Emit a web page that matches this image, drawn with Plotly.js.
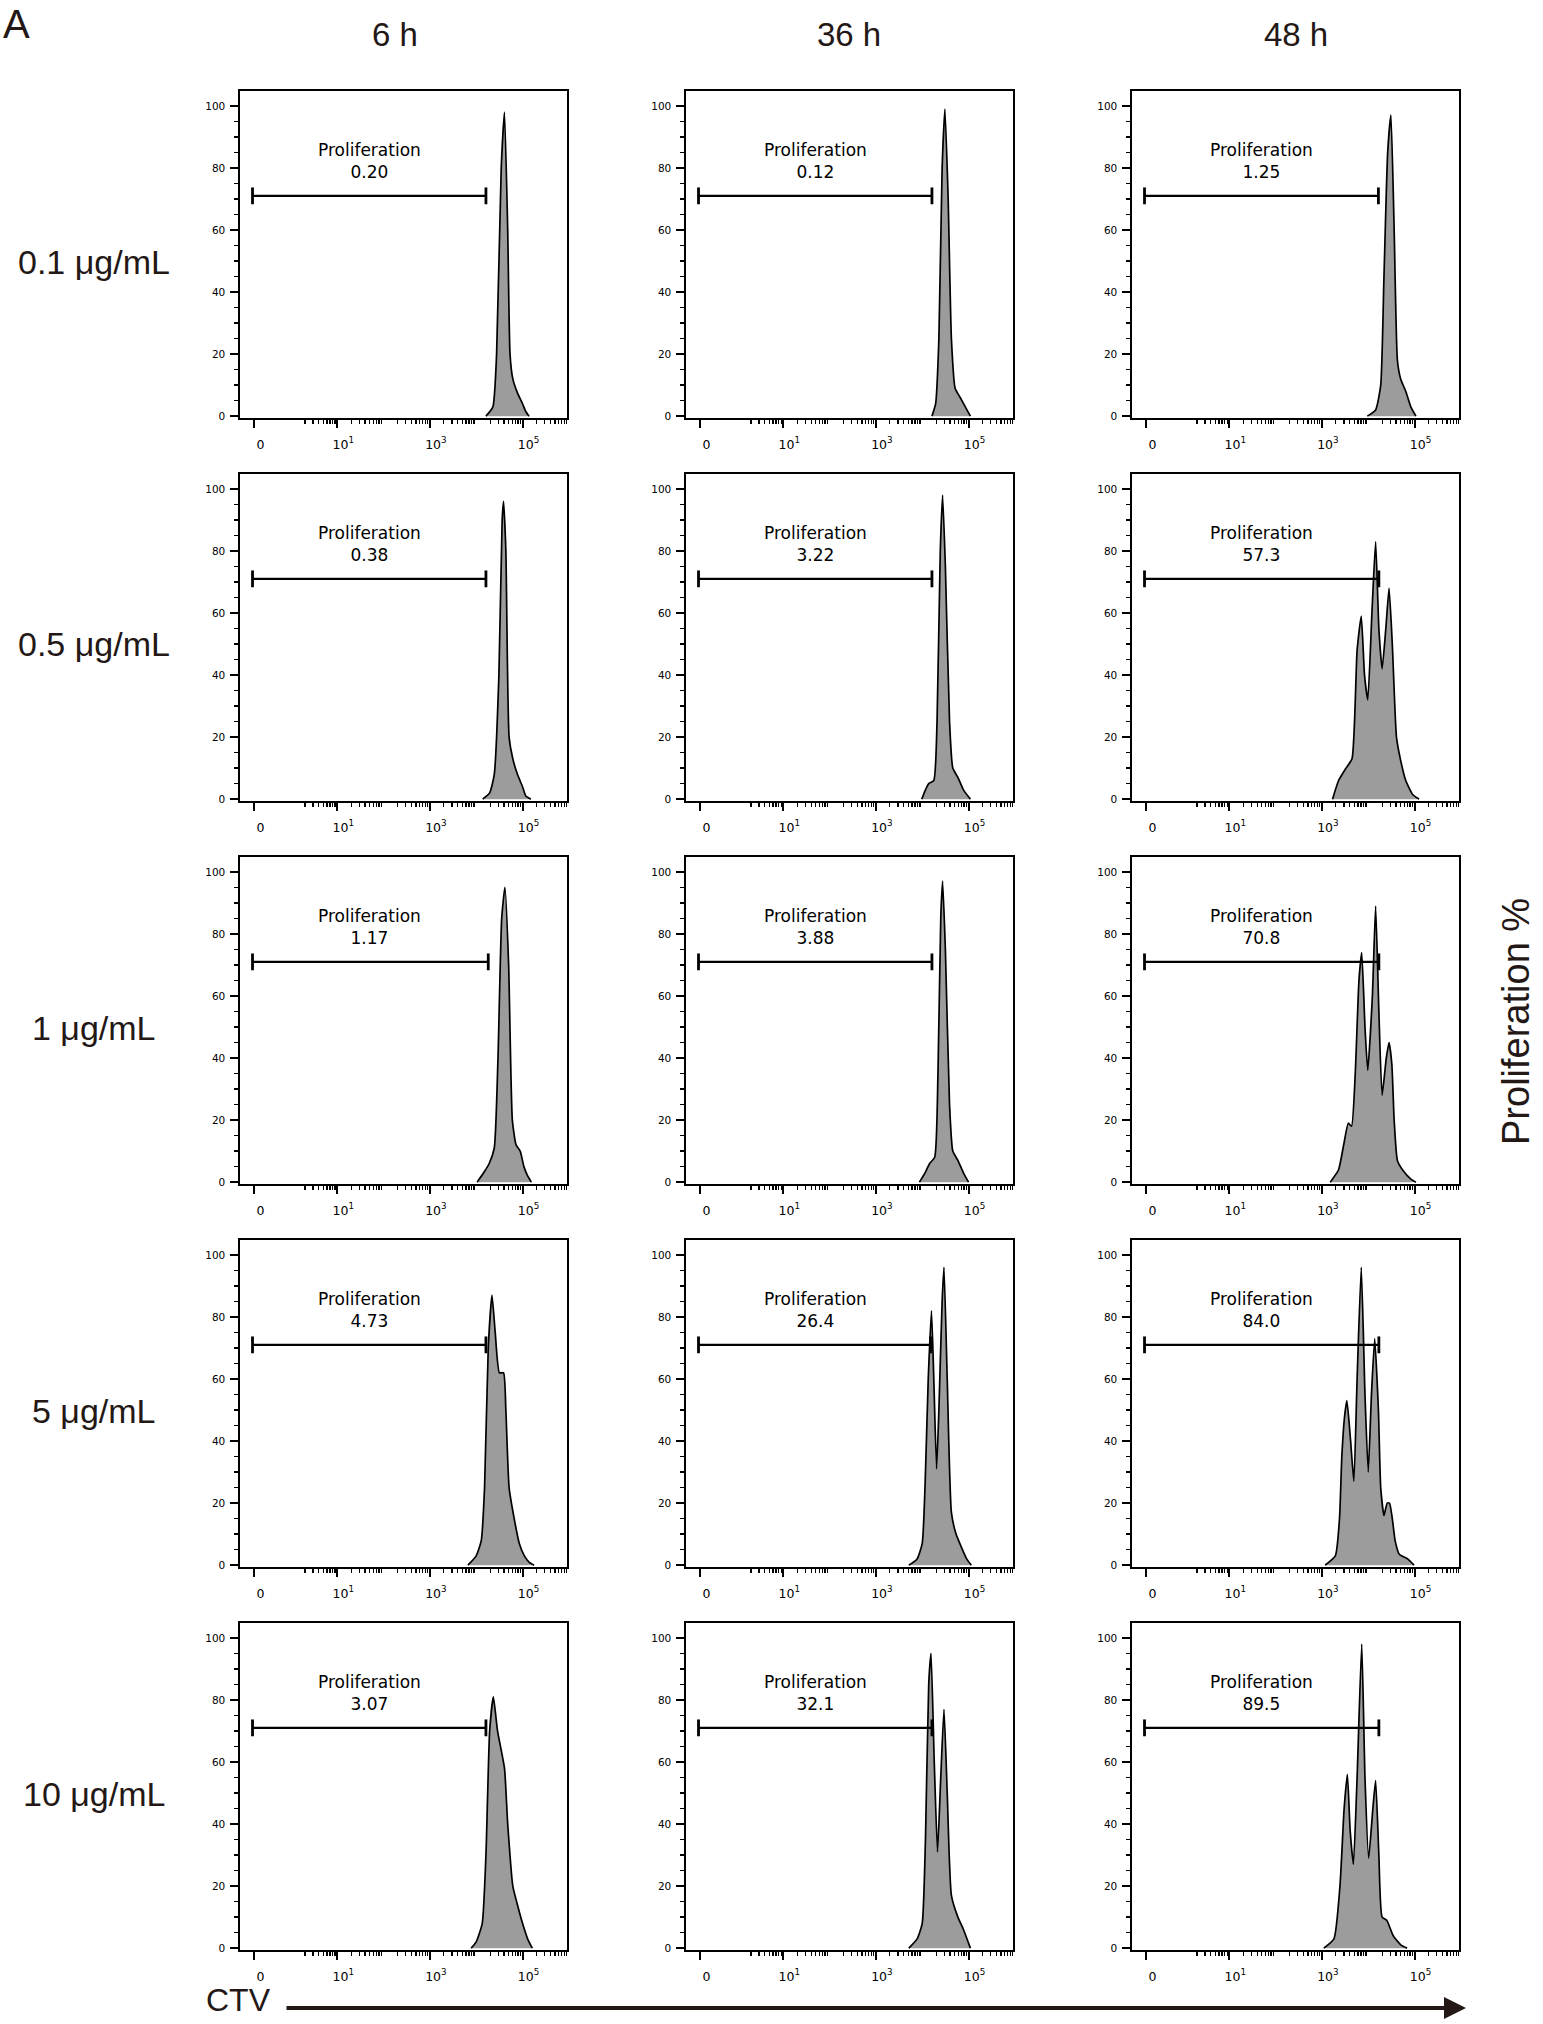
<!DOCTYPE html>
<html>
<head>
<meta charset="utf-8">
<script src="https://cdn.plot.ly/plotly-3.0.1.min.js"></script>
<style>
  html, body { margin: 0; padding: 0; background: #fff; }
  #chart { width: 1543px; height: 2024px; }
</style>
</head>
<body>
<div id="chart"></div>
<script>
// CTV histograms: x = log10(CTV), y = % of max
var ctv6h_01 = [4.21, 4.36, 4.44, 4.54, 4.61, 4.68, 4.73, 4.79, 4.89, 5.0, 5.07, 5.14];
var cnt6h_01 = [0, 3, 20, 80, 98, 60, 20, 12, 7.5, 4, 1.5, 0];
var ctv6h_05 = [4.14, 4.29, 4.39, 4.49, 4.56, 4.59, 4.64, 4.71, 4.79, 4.89, 5.0, 5.07, 5.18];
var cnt6h_05 = [0, 2, 8, 40, 90, 96, 80, 20, 13, 8, 4, 1, 0];
var ctv6h_1 = [4.02, 4.16, 4.28, 4.39, 4.47, 4.55, 4.62, 4.7, 4.78, 4.86, 4.95, 5.03, 5.11, 5.19];
var cnt6h_1 = [0, 3, 6, 11, 40, 85, 95, 70, 20, 12, 10, 5, 2, 0];
var ctv6h_5 = [3.82, 4.0, 4.11, 4.18, 4.26, 4.34, 4.41, 4.5, 4.59, 4.64, 4.71, 4.82, 4.93, 5.04, 5.14, 5.25];
var cnt6h_5 = [0, 3, 8, 25, 70, 87, 75, 62, 62, 50, 25, 15, 7, 3, 1, 0];
var ctv6h_10 = [3.89, 4.0, 4.13, 4.21, 4.29, 4.37, 4.46, 4.61, 4.68, 4.79, 4.89, 5.0, 5.11, 5.21];
var cnt6h_10 = [0, 2, 8, 30, 70, 81, 70, 58, 40, 20, 14, 8, 3, 0];

var ctv36h_01 = [4.21, 4.29, 4.36, 4.43, 4.49, 4.56, 4.63, 4.71, 4.82, 4.93, 5.04];
var cnt36h_01 = [0, 4, 25, 80, 99, 70, 25, 9, 6, 3, 0];
var ctv36h_05 = [3.99, 4.07, 4.14, 4.25, 4.32, 4.39, 4.44, 4.5, 4.59, 4.66, 4.77, 4.89, 5.04];
var cnt36h_05 = [0, 3, 5, 6, 25, 80, 98, 75, 25, 10, 7, 3, 0];
var ctv36h_1 = [3.94, 4.06, 4.16, 4.27, 4.34, 4.4, 4.44, 4.5, 4.59, 4.66, 4.77, 4.89, 5.0];
var cnt36h_1 = [0, 3, 6, 8, 35, 85, 97, 75, 25, 10, 7, 3, 0];
var ctv36h_5 = [3.71, 3.89, 4.0, 4.06, 4.13, 4.2, 4.25, 4.31, 4.36, 4.43, 4.47, 4.54, 4.63, 4.73, 4.84, 4.96, 5.06];
var cnt36h_5 = [0, 2, 7, 25, 60, 82, 60, 31, 50, 85, 96, 60, 17, 10, 6, 2, 0];
var ctv36h_10 = [3.71, 3.89, 4.0, 4.07, 4.14, 4.19, 4.26, 4.33, 4.4, 4.47, 4.54, 4.63, 4.77, 4.89, 5.04];
var cnt36h_10 = [0, 3, 8, 35, 85, 95, 60, 31, 55, 77, 50, 17, 10, 6, 0];

var ctv48h_01 = [3.98, 4.16, 4.27, 4.34, 4.42, 4.49, 4.56, 4.63, 4.7, 4.81, 4.92, 5.03];
var cnt48h_01 = [0, 2, 10, 45, 85, 97, 60, 18, 12, 8, 3, 0];
var ctv48h_05 = [3.23, 3.36, 3.52, 3.65, 3.76, 3.85, 3.92, 3.99, 4.08, 4.16, 4.23, 4.3, 4.38, 4.45, 4.52, 4.61, 4.7, 4.81, 4.96, 5.1];
var cnt48h_05 = [0, 6, 10, 13, 48, 59, 40, 32, 60, 83, 55, 42, 55, 68, 50, 20, 12.5, 6, 1.5, 0];
var ctv48h_1 = [3.18, 3.36, 3.47, 3.57, 3.64, 3.72, 3.8, 3.86, 3.93, 3.99, 4.09, 4.16, 4.23, 4.3, 4.39, 4.45, 4.51, 4.56, 4.63, 4.74, 4.92, 5.03];
var cnt48h_1 = [0, 4, 12, 19, 18, 35, 65, 74, 50, 36, 60, 89, 55, 28, 40, 45, 38, 20, 7, 4, 1, 0];
var ctv48h_5 = [3.07, 3.29, 3.38, 3.43, 3.49, 3.54, 3.62, 3.69, 3.76, 3.85, 3.93, 4.0, 4.07, 4.14, 4.22, 4.27, 4.34, 4.41, 4.46, 4.52, 4.58, 4.67, 4.85, 4.99];
var cnt48h_5 = [0, 3, 15, 35, 48, 53, 40, 27, 60, 96, 55, 30, 55, 73, 50, 25, 16, 20, 20, 15, 8, 3.5, 2, 0];
var ctv48h_10 = [3.04, 3.26, 3.39, 3.48, 3.55, 3.61, 3.68, 3.76, 3.86, 3.93, 4.01, 4.1, 4.16, 4.23, 4.3, 4.4, 4.54, 4.71, 4.84];
var cnt48h_10 = [0, 3, 20, 45, 56, 38, 27, 55, 98, 55, 29, 45, 54, 30, 10, 9, 4, 1, 0];

var times = ['6 h', '36 h', '48 h'];
var doses = ['0.1 μg/mL', '0.5 μg/mL', '1 μg/mL', '5 μg/mL', '10 μg/mL'];

var prolif6h = ['0.20', '0.38', '1.17', '4.73', '3.07'];
var prolif36h = ['0.12', '3.22', '3.88', '26.4', '32.1'];
var prolif48h = ['1.25', '57.3', '70.8', '84.0', '89.5'];

// gate bar: from the "0" position to gateRight, at 71 %
var gateLeft = -0.83;
var gateRight6h = [4.21, 4.21, 4.26, 4.21, 4.21];
var gateRight36h = [4.21, 4.21, 4.21, 4.18, 4.21];
var gateRight48h = [4.22, 4.23, 4.23, 4.23, 4.23];
var gateY = 71;

// labelled decades and unlabelled decades of the CTV axis
var xTickVals = [-0.79, 1, 3, 5];
var xTickText = ['0', '10<sup>1</sup>', '10<sup>3</sup>', '10<sup>5</sup>'];
var xPlainTicks = [0, 2, 4];
var yTickVals = [0, 20, 40, 60, 80, 100];

var ctvs = [
  [ctv6h_01, ctv6h_05, ctv6h_1, ctv6h_5, ctv6h_10],
  [ctv36h_01, ctv36h_05, ctv36h_1, ctv36h_5, ctv36h_10],
  [ctv48h_01, ctv48h_05, ctv48h_1, ctv48h_5, ctv48h_10]
];
var cnts = [
  [cnt6h_01, cnt6h_05, cnt6h_1, cnt6h_5, cnt6h_10],
  [cnt36h_01, cnt36h_05, cnt36h_1, cnt36h_5, cnt36h_10],
  [cnt48h_01, cnt48h_05, cnt48h_1, cnt48h_5, cnt48h_10]
];
var prolifs = [prolif6h, prolif36h, prolif48h];
var gateRights = [gateRight6h, gateRight36h, gateRight48h];

// page geometry in pixels
var W = 1543, H = 2024;
var colLeft = [240, 686, 1132];
var rowTop = [91, 474, 857, 1240, 1623];
var panel = 327;
var headerX = [395, 849, 1296];
var xRange = [-1.1, 5.96];

var ink = '#231815';
var smallFont = 'DejaVu Sans, sans-serif';
var bigFont = 'Liberation Sans, Arial, sans-serif';

// log-style minor ticks
var minorX = [];
for (var d = 0; d <= 5; d++) {
  for (var k = 2; k <= 9; k++) minorX.push(d + Math.log10(k));
}

var data = [];
var layout = {
  width: W, height: H,
  margin: {l: 0, r: 0, t: 0, b: 0},
  paper_bgcolor: '#fff', plot_bgcolor: '#fff',
  showlegend: false,
  annotations: [],
  font: {family: smallFont, color: '#000'}
};

var n = 0;
for (var c = 0; c < 3; c++) {
  for (var r = 0; r < 5; r++) {
    n++;
    var sx = n === 1 ? '' : String(n);
    var xa = 'x' + sx, ya = 'y' + sx;
    var dom = [colLeft[c] / W, (colLeft[c] + panel) / W];

    data.push({
      x: ctvs[c][r], y: cnts[c][r],
      xaxis: xa, yaxis: ya,
      type: 'scatter', mode: 'lines',
      fill: 'tozeroy', fillcolor: '#9c9c9c',
      line: {color: '#000', width: 1.7, shape: 'spline', smoothing: 0.5},
      hoverinfo: 'skip'
    });
    data.push({
      x: [gateLeft, gateRights[c][r]], y: [gateY, gateY],
      xaxis: xa, yaxis: ya,
      type: 'scatter', mode: 'lines+markers',
      line: {color: '#000', width: 2.4},
      marker: {symbol: 'line-ns', size: 12, line: {color: '#000', width: 2.8}},
      hoverinfo: 'skip'
    });

    layout['xaxis' + sx] = {
      domain: dom,
      anchor: ya,
      range: xRange,
      tickmode: 'array', tickvals: xTickVals, ticktext: xTickText,
      ticks: 'outside', ticklen: 8, tickwidth: 2, tickcolor: '#000',
      tickfont: {family: smallFont, size: 12.5, color: '#000'},
      ticklabelstandoff: 6, ticklabelshift: 6,
      minor: {tickvals: minorX, ticks: 'outside', ticklen: 4, tickwidth: 1.3, tickcolor: '#000'},
      showline: true, linecolor: '#000', linewidth: 1.6, mirror: true,
      showgrid: false, zeroline: false, fixedrange: true
    };
    // second bottom axis only for the unlabelled decade ticks
    layout['xaxis' + (n + 15)] = {
      domain: dom,
      overlaying: xa,
      anchor: ya,
      side: 'bottom',
      range: xRange,
      tickmode: 'array', tickvals: xPlainTicks,
      ticks: 'outside', ticklen: 7, tickwidth: 2, tickcolor: '#000',
      showticklabels: false, showline: false,
      showgrid: false, zeroline: false, fixedrange: true
    };
    layout['yaxis' + sx] = {
      domain: [1 - (rowTop[r] + panel) / H, 1 - rowTop[r] / H],
      anchor: xa,
      range: [-0.6, 104.8],
      tickmode: 'array', tickvals: yTickVals,
      ticks: 'outside', ticklen: 8, tickwidth: 2, tickcolor: '#000',
      tickfont: {family: smallFont, size: 10.5, color: '#000'},
      ticklabelstandoff: 3,
      minor: {dtick: 5, ticks: 'outside', ticklen: 4, tickwidth: 1.3, tickcolor: '#000'},
      showline: true, linecolor: '#000', linewidth: 1.6, mirror: true,
      showgrid: false, zeroline: false, fixedrange: true
    };

    layout.annotations.push({
      xref: xa, yref: ya, x: 1.7, y: 82.3,
      text: 'Proliferation<br>' + prolifs[c][r],
      showarrow: false, xanchor: 'center', yanchor: 'middle',
      font: {family: smallFont, size: 17, color: '#000'}
    });
  }
}

// column headers
for (var c2 = 0; c2 < 3; c2++) {
  layout.annotations.push({
    xref: 'paper', yref: 'paper',
    x: headerX[c2] / W, y: 1 - 35 / H,
    text: times[c2], showarrow: false, xanchor: 'center', yanchor: 'middle',
    font: {family: bigFont, size: 33, color: ink}
  });
}
// row labels
for (var r2 = 0; r2 < 5; r2++) {
  layout.annotations.push({
    xref: 'paper', yref: 'paper',
    x: 94 / W, y: 1 - (rowTop[r2] + panel / 2 + 7) / H,
    text: doses[r2], showarrow: false, xanchor: 'center', yanchor: 'middle',
    font: {family: bigFont, size: 34, color: ink}
  });
}
// panel letter, side title, CTV arrow
layout.annotations.push({
  xref: 'paper', yref: 'paper', x: 16 / W, y: 1 - 24 / H,
  text: 'A', showarrow: false, xanchor: 'center', yanchor: 'middle',
  font: {family: bigFont, size: 40, color: ink}
});
layout.annotations.push({
  xref: 'paper', yref: 'paper', x: 1516 / W, y: 1 - 1022 / H,
  text: 'Proliferation %', textangle: -90, showarrow: false,
  xanchor: 'center', yanchor: 'middle',
  font: {family: bigFont, size: 38, color: ink}
});
layout.annotations.push({
  xref: 'paper', yref: 'paper', x: 238 / W, y: 1 - 2000 / H,
  text: 'CTV', showarrow: false, xanchor: 'center', yanchor: 'middle',
  font: {family: bigFont, size: 32, color: ink}
});
layout.annotations.push({
  xref: 'paper', yref: 'paper', x: 1466 / W, y: 1 - 2008 / H,
  axref: 'pixel', ayref: 'pixel', ax: -(1466 - 285), ay: 0,
  text: '', showarrow: true, arrowhead: 2, arrowsize: 1.1, arrowwidth: 4,
  arrowcolor: ink
});

Plotly.newPlot('chart', data, layout, {staticPlot: true});
</script>
</body>
</html>
